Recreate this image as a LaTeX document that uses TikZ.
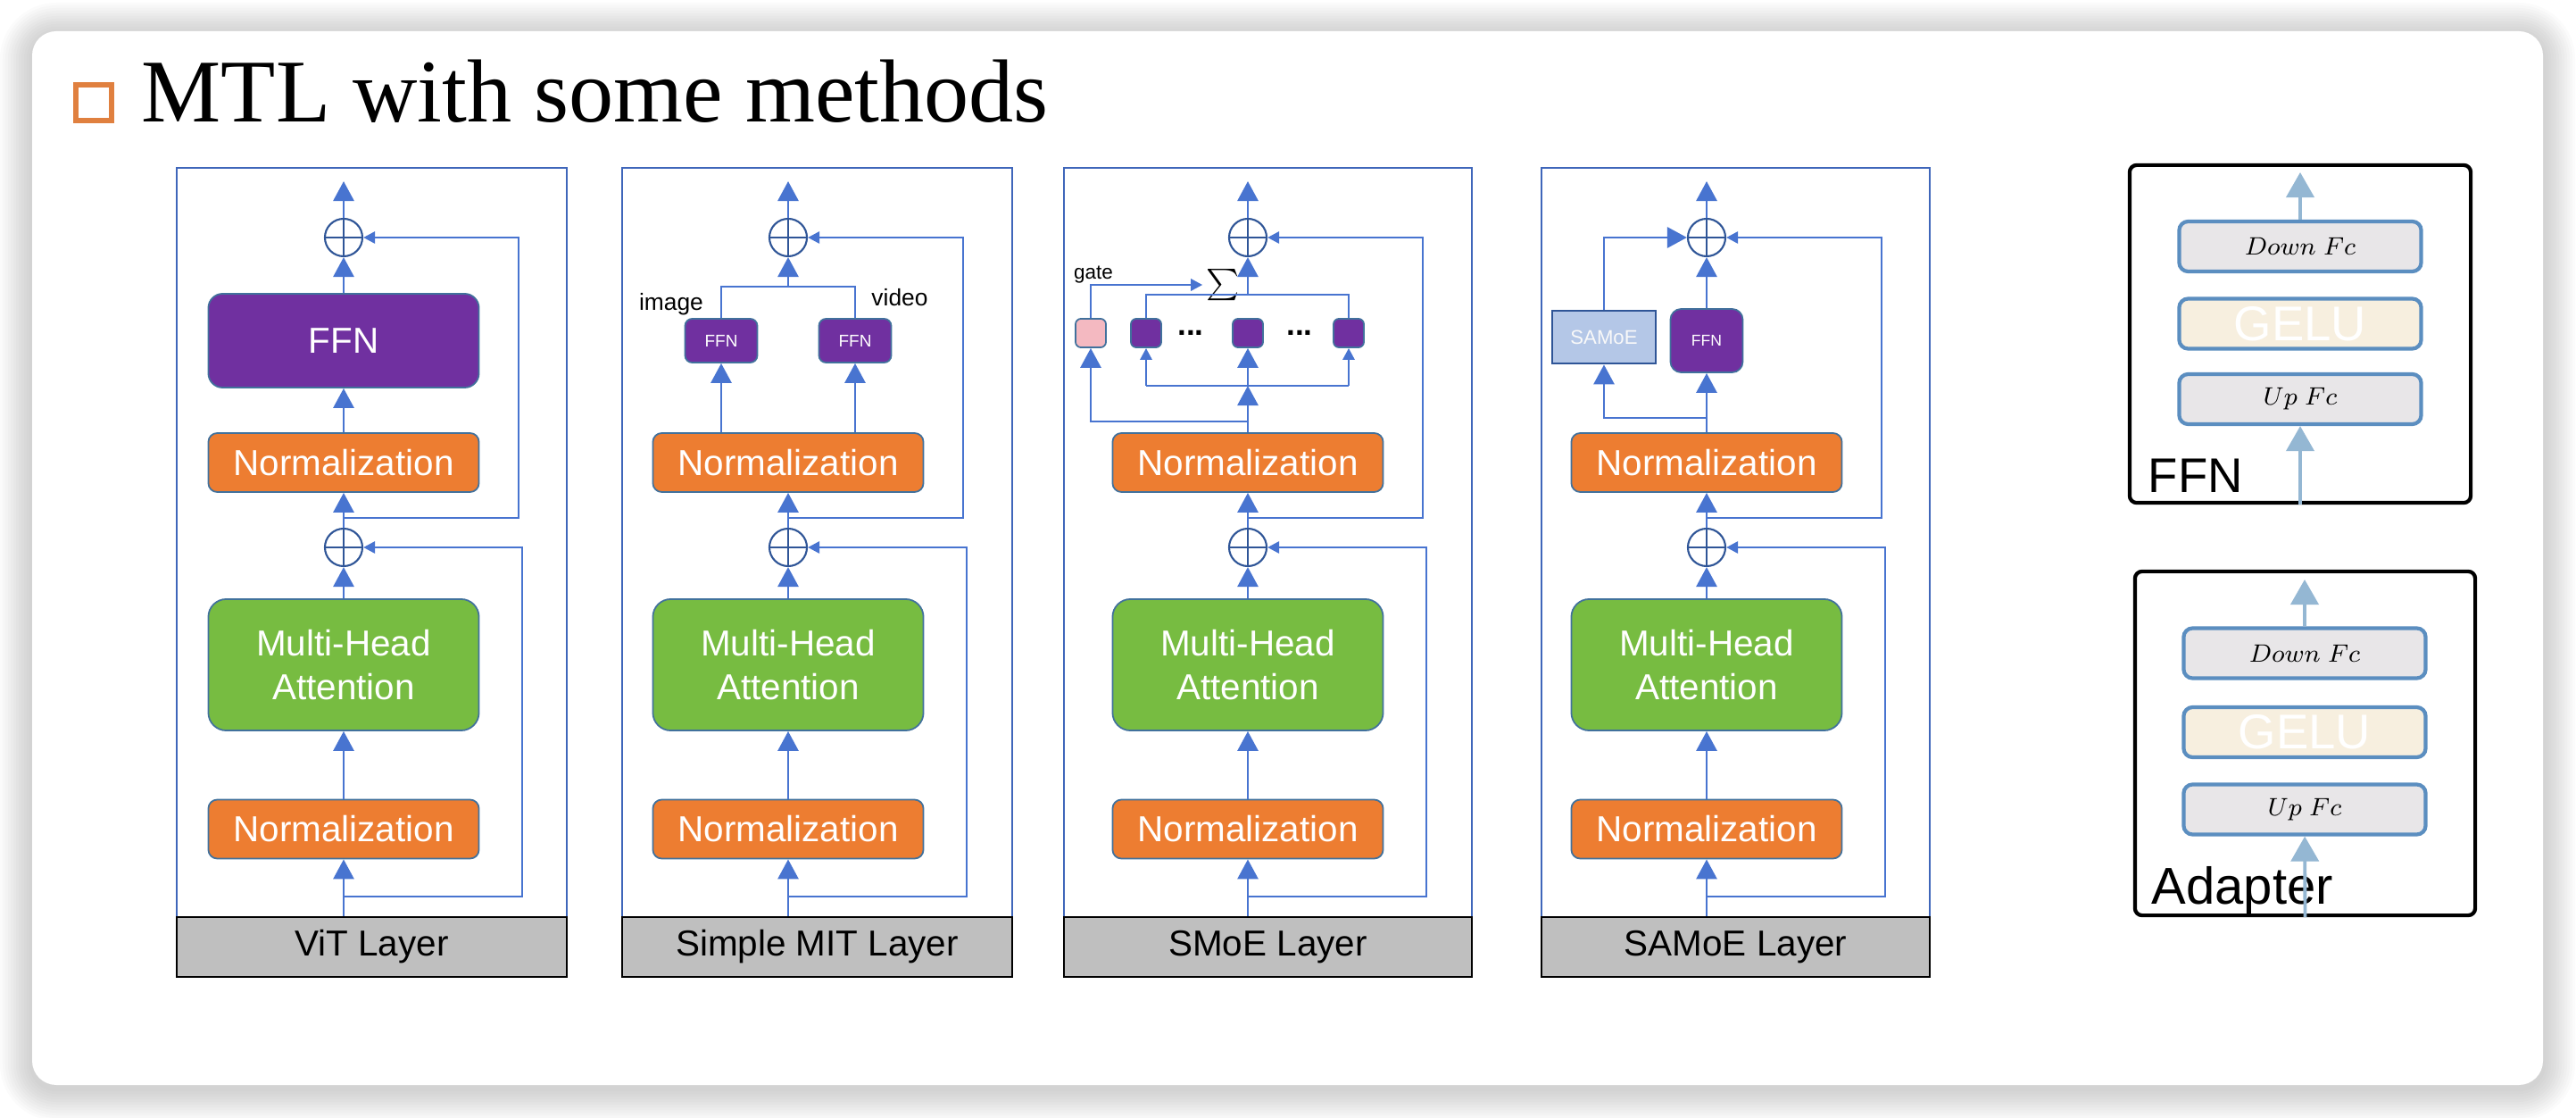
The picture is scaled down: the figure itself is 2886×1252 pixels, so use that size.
\documentclass[tikz,border=0pt]{standalone}
\usepackage{fontspec}
\setmainfont{Liberation Sans}
\newfontfamily\titlefont{Liberation Serif}
\usepackage{xcolor}
\usepackage{tikz}
\usetikzlibrary{arrows.meta,positioning,calc}

\definecolor{flowblue}{HTML}{4874D0}
\definecolor{frameblue}{HTML}{3F66BA}
\definecolor{plusblue}{HTML}{2F5597}
\definecolor{boxedge}{HTML}{41719C}
\definecolor{normorange}{HTML}{ED7D31}
\definecolor{attgreen}{HTML}{77BC41}
\definecolor{ffnpurple}{HTML}{7030A0}
\definecolor{gatepink}{HTML}{F4B9C1}
\definecolor{moeblue}{HTML}{B4C7E7}
\definecolor{labgray}{HTML}{BFBFBF}
\definecolor{legedge}{HTML}{5B8EC0}
\definecolor{legfill}{HTML}{E8E6E8}
\definecolor{gelufill}{HTML}{F7EFDF}
\definecolor{legarrow}{HTML}{94B7D3}
\definecolor{titleorange}{HTML}{E0803F}

\tikzset{
  block/.style={draw=boxedge, line width=0.5pt, rounded corners=0.1cm, text=white,
    font=\fontsize{11.5}{13.8}\selectfont, inner sep=0pt, minimum width=3.03cm},
  normbox/.style={block, fill=normorange, minimum height=0.66cm},
  attbox/.style={block, fill=attgreen, minimum height=1.47cm, rounded corners=0.2cm, align=center},
  ffnbox/.style={block, fill=ffnpurple, minimum height=1.05cm, rounded corners=0.16cm},
  smallffn/.style={block, fill=ffnpurple, minimum width=0.81cm, minimum height=0.49cm,
    font=\fontsize{5.4}{6}\selectfont, rounded corners=0.08cm},
  expert/.style={block, fill=ffnpurple, minimum width=0.34cm, minimum height=0.32cm, rounded corners=0.06cm},
  gatebox/.style={expert, fill=gatepink},
  moebox/.style={draw=plusblue, fill=moeblue, line width=0.8pt, text=white!95!gray, inner sep=0pt,
    minimum width=1.16cm, minimum height=0.59cm, font=\fontsize{6.3}{7}\selectfont},
  addnode/.style={circle, draw=plusblue, line width=0.6pt, minimum size=0.42cm, inner sep=0pt,
    path picture={\draw[plusblue, line width=0.6pt]
      (path picture bounding box.north) -- (path picture bounding box.south)
      (path picture bounding box.west) -- (path picture bounding box.east);}},
  layerframe/.style={draw=frameblue, line width=0.8pt},
  layerlab/.style={draw=black, fill=labgray, line width=0.8pt, inner sep=0pt,
    font=\fontsize{11.5}{13.8}\selectfont},
  flow/.style={draw=flowblue, line width=0.8pt, -{Triangle[length=2.2mm,width=2.3mm]}},
  flowsm/.style={draw=flowblue, line width=0.8pt, -{Triangle[length=1.3mm,width=1.3mm]}},
  wire/.style={draw=flowblue, line width=0.8pt},
  tag/.style={font=\fontsize{7.5}{9}\selectfont, inner sep=0pt},
  legbox/.style={draw=black, line width=1.2pt, rounded corners=0.08cm, inner sep=0pt},
  fcbox/.style={draw=legedge, fill=legfill, line width=1.2pt, rounded corners=0.1cm,
    minimum width=2.71cm, minimum height=0.56cm, inner sep=0pt, font=\fontsize{8.5}{10}\selectfont},
  gelubox/.style={fcbox, fill=gelufill, text=white, font=\fontsize{15.5}{18}\selectfont},
  legflow/.style={draw=legarrow, line width=1.1pt, -{Triangle[length=2.8mm,width=3.1mm]}}
}

\begin{document}
\begin{tikzpicture}[x=0.01cm, y=-0.01cm]
    \useasboundingbox (0,0) rectangle (2886,1252);

    % Card with soft shadow
    \foreach \i in {1,...,12} {
        \pgfmathsetmacro\rr{0.27+0.03*\i}
        \fill[black, opacity=0.016, rounded corners=\rr cm] ({36-3*\i},{39-3*\i}) rectangle ({2849+3*\i},{1219+3*\i});
    }
    \fill[white, rounded corners=0.27cm] (36,35) rectangle (2849,1215);

    % Title
    \node[draw=titleorange, line width=1.6pt, minimum size=0.4cm, inner sep=0pt] (bullet) at (105,115) {};
    \node[anchor=base west, inner sep=0pt, font=\titlefont\fontsize{28.5}{30}\selectfont] (title) at (158,137) {MTL with some methods};

    % Shared transformer layer skeleton
    \foreach \p/\cx/\fl/\fr/\lab in {vit/385/198/635/ViT Layer, mit/883/697/1134/Simple MIT Layer,
        smoe/1398/1192/1649/SMoE Layer, samoe/1912/1727/2162/SAMoE Layer} {
        \draw[layerframe] (\fl,188) rectangle (\fr,1027);
        \node[layerlab, minimum width={(\fr-\fl)*0.01cm}, minimum height=0.67cm] (\p-lab) at ({(\fl+\fr)/2},1060.5) {\lab};
        \node[normbox] (\p-norm1) at (\cx,928.5) {Normalization};
        \node[attbox] (\p-mha) at (\cx,744.5) {Multi-Head\\Attention};
        \node[addnode] (\p-add1) at (\cx,613) {};
        \node[normbox] (\p-norm2) at (\cx,518) {Normalization};
        \node[addnode] (\p-add2) at (\cx,266) {};
        \coordinate (\p-tap1) at (\cx,1004);
        \coordinate (\p-tap2) at (\cx,580);
        \coordinate (\p-out) at (\cx,203);
        \draw[flow] (\p-lab.north -| \p-norm1) -- (\p-norm1);
        \draw[flow] (\p-norm1) -- (\p-mha);
        \draw[flow] (\p-mha) -- (\p-add1);
        \draw[flow] (\p-add1) -- (\p-norm2);
        \draw[flow] (\p-add2) -- (\p-out);
        \draw[flowsm] (\p-tap1) -- ++(200,0) |- (\p-add1);
        \draw[flowsm] (\p-tap2) -- ++(196,0) |- (\p-add2);
    }

    % ViT: single FFN
    \node[ffnbox] (vit-ffn) at (385,381.5) {FFN};
    \draw[flow] (vit-norm2) -- (vit-ffn);
    \draw[flow] (vit-ffn) -- (vit-add2);

    % Simple MIT: one FFN per modality
    \node[smallffn] (mit-ffnimg) at (808,381.5) {FFN};
    \node[smallffn] (mit-ffnvid) at (958,381.5) {FFN};
    \node[tag] (mit-img) at (752,341) {image};
    \node[tag] (mit-vid) at (1008,333) {video};
    \coordinate (mit-merge) at (883,321);
    \draw[flow] (mit-norm2.north -| mit-ffnimg) -- (mit-ffnimg);
    \draw[flow] (mit-norm2.north -| mit-ffnvid) -- (mit-ffnvid);
    \draw[wire] (mit-ffnimg) |- (mit-merge) -| (mit-ffnvid);
    \draw[flow] (mit-merge) -- (mit-add2);

    % SMoE: gate and experts
    \node[gatebox] (smoe-gate) at (1222,373) {};
    \node[expert] (smoe-e1) at (1284,373) {};
    \node[expert] (smoe-e2) at (1398,373) {};
    \node[expert] (smoe-e3) at (1511,373) {};
    \node[inner sep=0pt, font=\fontsize{10}{10}\selectfont\bfseries] (smoe-dots1) at (1334,373) {...};
    \node[inner sep=0pt, font=\fontsize{10}{10}\selectfont\bfseries] (smoe-dots2) at (1456,373) {...};
    \node[tag, font=\fontsize{6.4}{7}\selectfont] (smoe-gatelab) at (1225,308) {gate};
    \node[inner sep=1pt, font=\fontsize{7}{7}\selectfont] (smoe-sum) at (1370,319) {$\sum$};
    \coordinate (smoe-split) at (1398,432);
    \coordinate (smoe-tap3) at (1398,472);
    \coordinate (smoe-merge) at (1398,330);
    \draw[flow] (smoe-norm2) -- (smoe-split);
    \draw[wire] (smoe-e1 |- smoe-split) -- (smoe-e3 |- smoe-split);
    \draw[flowsm] (smoe-e1 |- smoe-split) -- (smoe-e1);
    \draw[flowsm] (smoe-e3 |- smoe-split) -- (smoe-e3);
    \draw[flow] (smoe-split) -- (smoe-e2);
    \draw[flow] (smoe-tap3) -| (smoe-gate);
    \draw[flowsm] (smoe-gate) |- (smoe-sum);
    \draw[wire] (smoe-e1) |- (smoe-merge) -| (smoe-e3);
    \draw[flow] (smoe-merge) -- (smoe-add2);

    % SAMoE: FFN with side SAMoE branch
    \node[smallffn, minimum height=0.71cm, rounded corners=0.12cm, font=\fontsize{5}{6}\selectfont] (samoe-ffn) at (1912,381.5) {FFN};
    \node[moebox] (samoe-moe) at (1797,377.5) {SAMoE};
    \coordinate (samoe-tap3) at (1912,468);
    \draw[flow] (samoe-norm2) -- (samoe-ffn);
    \draw[flow] (samoe-ffn) -- (samoe-add2);
    \draw[flow] (samoe-tap3) -| (samoe-moe);
    \draw[flow] (samoe-moe) |- (samoe-add2);

    % FFN legend
    \node[legbox, minimum width=3.82cm, minimum height=3.78cm] (ffn-box) at (2577,374) {};
    \node[fcbox] (ffn-down) at (2577,276) {$Down\ Fc$};
    \node[gelubox] (ffn-gelu) at (2577,362.5) {GELU};
    \node[fcbox] (ffn-up) at (2577,447) {$Up\ Fc$};
    \node[anchor=base west, inner sep=0pt, font=\fontsize{15.5}{18}\selectfont] (ffn-name) at (2406,552) {FFN};
    \coordinate (ffn-out) at (2577,193);
    \draw[legflow] (ffn-box.south) -- (ffn-up);
    \draw[legflow] (ffn-down) -- (ffn-out);

    % Adapter legend
    \node[legbox, minimum width=3.81cm, minimum height=3.85cm] (ada-box) at (2582.5,832.5) {};
    \node[fcbox] (ada-down) at (2582,731.5) {$Down\ Fc$};
    \node[gelubox] (ada-gelu) at (2582,820) {GELU};
    \node[fcbox] (ada-up) at (2582,906.5) {$Up\ Fc$};
    \node[anchor=base west, inner sep=0pt, font=\fontsize{16.5}{19}\selectfont] (ada-name) at (2410,1012) {Adapter};
    \coordinate (ada-out) at (2582,649);
    \draw[legflow] (ada-box.south) -- (ada-up);
    \draw[legflow] (ada-down) -- (ada-out);
\end{tikzpicture}
\end{document}
